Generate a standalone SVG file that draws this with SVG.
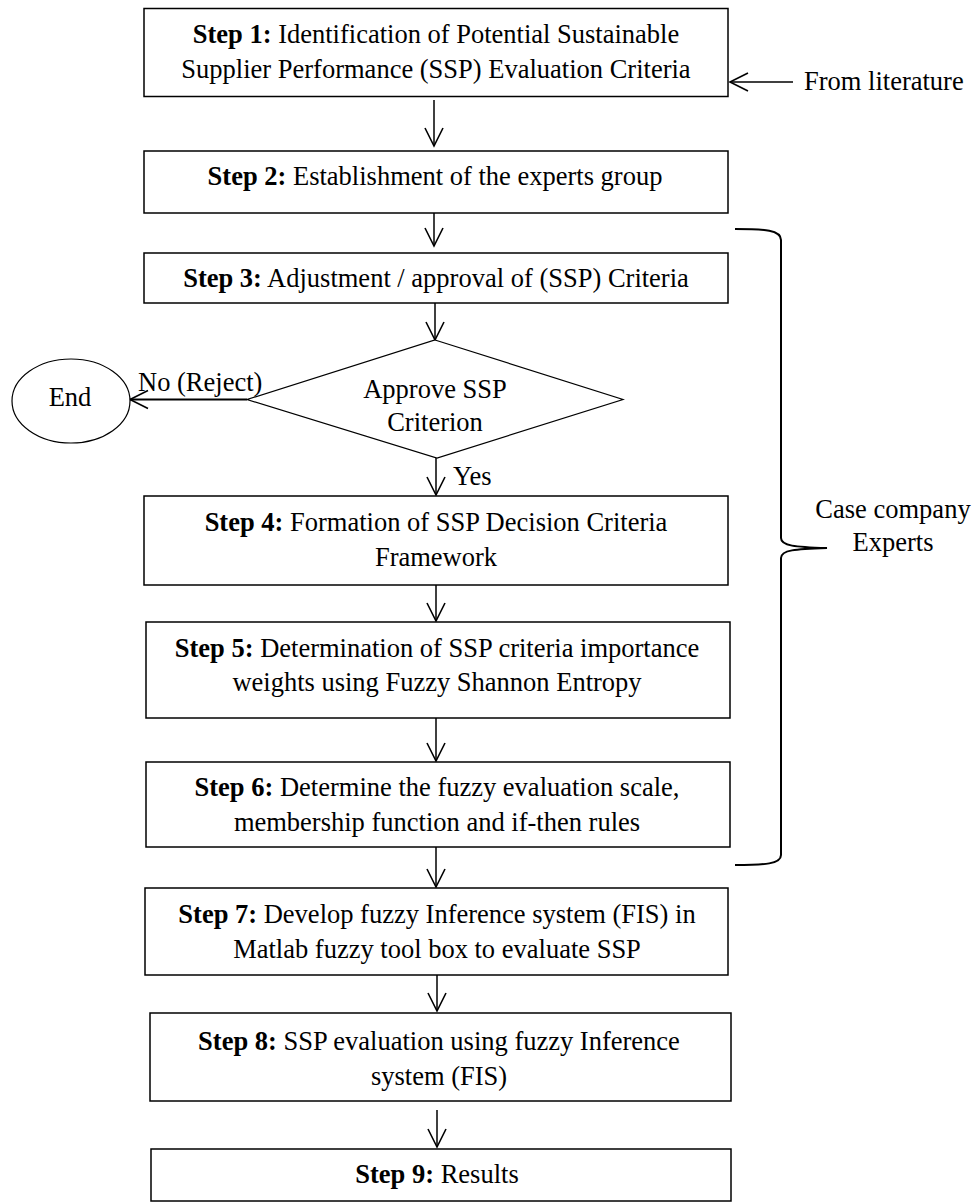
<svg xmlns="http://www.w3.org/2000/svg" width="980" height="1203" viewBox="0 0 980 1203">
<style>
  .box { fill: #fff; stroke: #000; stroke-width: 1.5; }
  .shape { fill: #fff; stroke: #000; stroke-width: 1.2; }
  .t { font-family: "Liberation Serif", "Times New Roman", serif; font-size: 26.5px; fill: #000; text-anchor: middle; }
  .tl { font-family: "Liberation Serif", "Times New Roman", serif; font-size: 26.5px; fill: #000; }
  .b { font-weight: bold; }
  .conn { fill: none; stroke: #000; stroke-width: 1.5; }
  .brace { fill: none; stroke: #000; stroke-width: 2; }
</style>
<defs>
  <marker id="open" markerUnits="userSpaceOnUse" markerWidth="20" markerHeight="20" refX="0" refY="0" orient="auto" overflow="visible">
    <path d="M-18,-9 L0,0 L-18,9" fill="none" stroke="#000" stroke-width="1.6"/>
  </marker>
</defs>
<rect width="980" height="1203" fill="#fff"/>

<g id="connectors">
  <line class="conn" x1="434" y1="100" x2="434" y2="146" marker-end="url(#open)"/>
  <line class="conn" x1="434" y1="213" x2="434" y2="246" marker-end="url(#open)"/>
  <line class="conn" x1="435" y1="303" x2="435" y2="340" marker-end="url(#open)"/>
  <line class="conn" x1="436" y1="458" x2="436" y2="495" marker-end="url(#open)"/>
  <line class="conn" x1="436" y1="585" x2="436" y2="621" marker-end="url(#open)"/>
  <line class="conn" x1="436" y1="718" x2="436" y2="761" marker-end="url(#open)"/>
  <line class="conn" x1="436" y1="847" x2="436" y2="887" marker-end="url(#open)"/>
  <line class="conn" x1="437" y1="975" x2="437" y2="1011" marker-end="url(#open)"/>
  <line class="conn" x1="437" y1="1110" x2="437" y2="1147" marker-end="url(#open)"/>
  <line class="conn" x1="247" y1="399.5" x2="130" y2="399.5" marker-end="url(#open)" style="stroke-width:2"/>
  <line class="conn" x1="793" y1="82" x2="730" y2="82" marker-end="url(#open)"/>
  <text class="tl" x="138" y="391">No (Reject)</text>
  <text class="tl" x="453" y="485">Yes</text>
</g>

<g id="step1">
  <rect class="box" x="144" y="8.5" width="584" height="88"/>
  <text class="t" x="436" y="43"><tspan class="b">Step 1:</tspan> Identification of Potential Sustainable</text>
  <text class="t" x="436" y="78">Supplier Performance (SSP) Evaluation Criteria</text>
</g>

<g id="literature">
  <text class="tl" x="804" y="90">From literature</text>
</g>

<g id="step2">
  <rect class="box" x="144" y="151" width="584" height="62"/>
  <text class="t" x="435" y="185"><tspan class="b">Step 2:</tspan> Establishment of the experts group</text>
</g>

<g id="step3">
  <rect class="box" x="144" y="253" width="584" height="50"/>
  <text class="t" x="436" y="287"><tspan class="b">Step 3:</tspan> Adjustment / approval of (SSP) Criteria</text>
</g>

<g id="decision">
  <polygon class="shape" points="435,340 623,399.5 437,458 247,399.5"/>
  <text class="t" x="435" y="398">Approve SSP</text>
  <text class="t" x="435" y="431">Criterion</text>
</g>

<g id="end">
  <ellipse class="shape" cx="71" cy="401" rx="59" ry="42"/>
  <text class="t" x="70" y="406">End</text>
</g>

<g id="step4">
  <rect class="box" x="144" y="496" width="584" height="89"/>
  <text class="t" x="436" y="531"><tspan class="b">Step 4:</tspan> Formation of SSP Decision Criteria</text>
  <text class="t" x="436" y="566">Framework</text>
</g>

<g id="step5">
  <rect class="box" x="146" y="622" width="584" height="96"/>
  <text class="t" x="437" y="657"><tspan class="b">Step 5:</tspan> Determination of SSP criteria importance</text>
  <text class="t" x="437" y="691">weights using Fuzzy Shannon Entropy</text>
</g>

<g id="step6">
  <rect class="box" x="146" y="762" width="584" height="85"/>
  <text class="t" x="437" y="796"><tspan class="b">Step 6:</tspan> Determine the fuzzy evaluation scale,</text>
  <text class="t" x="437" y="831">membership function and if-then rules</text>
</g>

<g id="step7">
  <rect class="box" x="145" y="888" width="583" height="87"/>
  <text class="t" x="437" y="923"><tspan class="b">Step 7:</tspan> Develop fuzzy Inference system (FIS) in</text>
  <text class="t" x="437" y="958">Matlab fuzzy tool box to evaluate SSP</text>
</g>

<g id="step8">
  <rect class="box" x="150" y="1013" width="581" height="88"/>
  <text class="t" x="439" y="1050"><tspan class="b">Step 8:</tspan> SSP evaluation using fuzzy Inference</text>
  <text class="t" x="439" y="1085">system (FIS)</text>
</g>

<g id="step9">
  <rect class="box" x="151" y="1149" width="580" height="52"/>
  <text class="t" x="437" y="1183"><tspan class="b">Step 9:</tspan> Results</text>
</g>

<g id="experts">
  <path class="brace" d="M735,229 C765,229 781,230 781,240 L781,538 C781,546 795,547 827,548 C795,549 781,550 781,558 L781,855 C781,864 765,865 735,865"/>
  <text class="t" x="893" y="518">Case company</text>
  <text class="t" x="893" y="551">Experts</text>
</g>
</svg>
